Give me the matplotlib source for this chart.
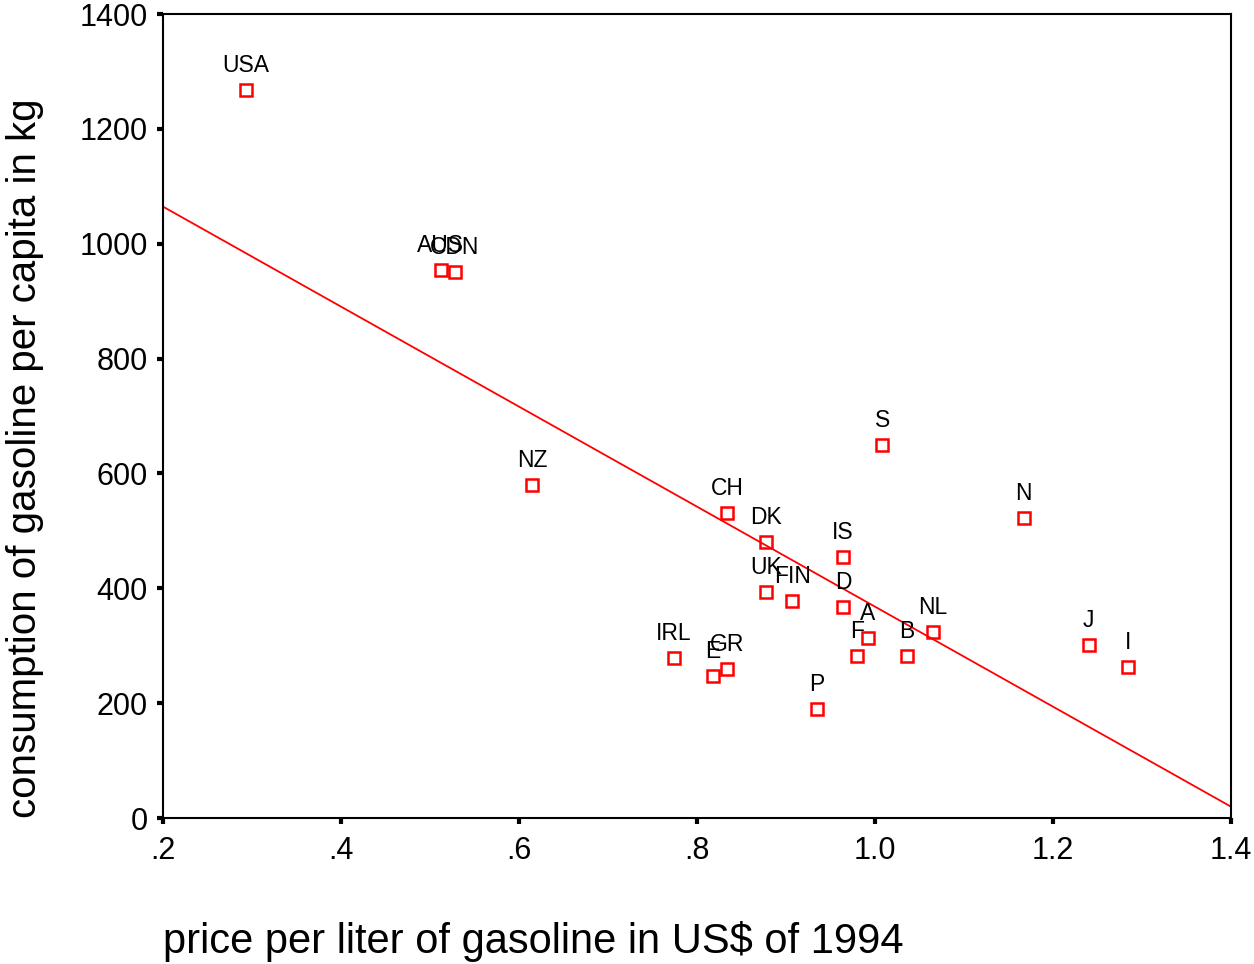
import numpy as np
import matplotlib
matplotlib.use('Agg')
import matplotlib.pyplot as plt

plt.rcParams['font.family'] = ['Liberation Sans', 'DejaVu Sans']

# precio por litro (US$ 1994) y consumo per capita (kg)
paises = ['USA', 'AUS', 'CDN', 'NZ', 'CH', 'DK', 'IS', 'S', 'N', 'UK', 'FIN',
          'D', 'A', 'F', 'B', 'NL', 'J', 'I', 'IRL', 'E', 'GR', 'P']
precio = [0.293, 0.512, 0.528, 0.615, 0.834, 0.878, 0.964, 1.008, 1.167, 0.878, 0.907,
          0.964, 0.992, 0.980, 1.036, 1.065, 1.240, 1.284, 0.774, 0.818, 0.834, 0.935]
consumo = [1267, 954, 951, 580, 531, 481, 454, 649, 522, 394, 378,
           367, 313, 282, 282, 324, 301, 263, 279, 247, 259, 190]

xticks = [0.2, 0.4, 0.6, 0.8, 1.0, 1.2, 1.4]
xticklabels = ['.2', '.4', '.6', '.8', '1.0', '1.2', '1.4']
yticks = [0, 200, 400, 600, 800, 1000, 1200, 1400]

fig = plt.figure(figsize=(12.54, 9.64), dpi=100)
ax = fig.add_axes([163/1254, 1 - 818/964, (1231 - 163)/1254, (818 - 14)/964])

# recta de regresion
m, b = np.polyfit(precio, consumo, 1)
xr = np.array([0.2, 1.4])
ax.plot(xr, m * xr + b, color='#ff0000', lw=1.3, zorder=2)

ax.plot(precio, consumo, 's', ms=9, mfc='none', mec='#ff0000', mew=1.8, zorder=3)
for p, x, y in zip(paises, precio, consumo):
    ax.annotate(p, (x, y), xytext=(0, 13), textcoords='offset points',
                ha='center', va='baseline', fontsize=16.5)

ax.set_xlim(0.2, 1.4)
ax.set_ylim(0, 1400)
ax.set_xticks(xticks)
ax.set_xticklabels(xticklabels)
ax.set_yticks(yticks)
ax.tick_params(axis='both', direction='out', length=4, width=3, labelsize=22)
ax.tick_params(axis='x', pad=9)
ax.tick_params(axis='y', pad=7)
for s in ax.spines.values():
    s.set_linewidth(1.5)

fig.text(163/1254, 1 - 942/964, 'price per liter of gasoline in US$ of 1994',
         ha='left', va='center', fontsize=30)
fig.text(25/1254, 1 - 818/964, 'consumption of gasoline per capita in kg',
         ha='center', va='bottom', rotation=90, fontsize=29)

fig.savefig('out.png', dpi=100)
